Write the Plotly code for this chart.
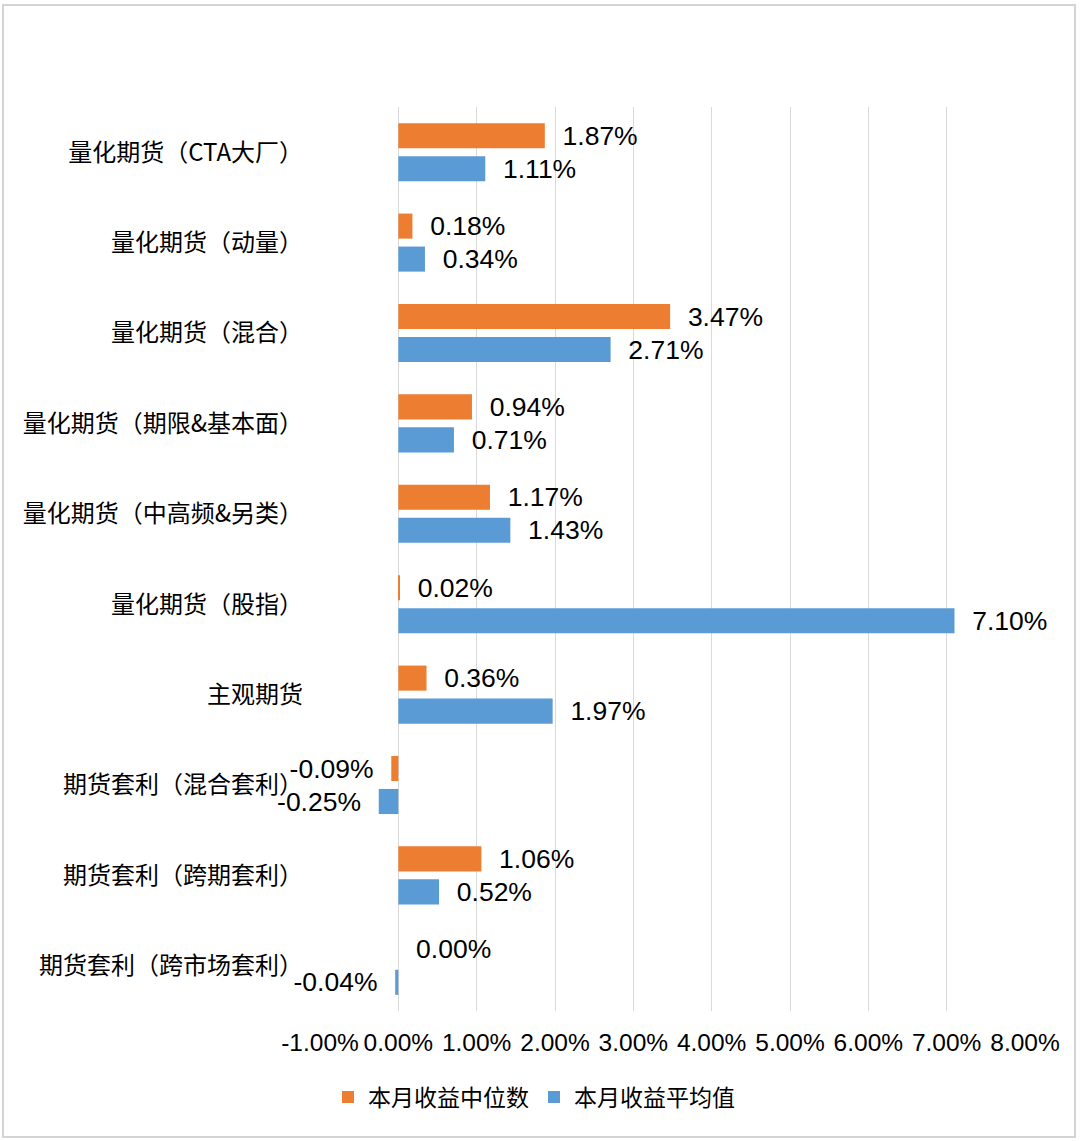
import plotly.graph_objects as go

categories = ["量化期货（CTA大厂）", "量化期货（动量）", "量化期货（混合）", "量化期货（期限&基本面）",
              "量化期货（中高频&另类）", "量化期货（股指）", "主观期货", "期货套利（混合套利）",
              "期货套利（跨期套利）", "期货套利（跨市场套利）"]
median_vals = [1.87, 0.18, 3.47, 0.94, 1.17, 0.02, 0.36, -0.09, 1.06, 0.00]
mean_vals = [1.11, 0.34, 2.71, 0.71, 1.43, 7.10, 1.97, -0.25, 0.52, -0.04]
x_ticks = [-1, 0, 1, 2, 3, 4, 5, 6, 7, 8]
series_names = ["本月收益中位数", "本月收益平均值"]
colors = ["#ED7D31", "#5B9BD5"]

NB = "\u00a0"


def labels(vals):
    out = []
    for v in vals:
        s = f"{v:.2f}%"
        out.append(s + NB * 2 if v < 0 else NB * 2 + s)
    return out


FONT = "Liberation Sans, Arial, Noto Sans CJK SC, sans-serif"
CJK = "Noto Sans CJK SC, sans-serif"

fig = go.Figure()
for name, vals, c in zip(series_names, [median_vals, mean_vals], colors):
    fig.add_trace(go.Bar(
        y=categories, x=vals, orientation="h", name=name,
        marker=dict(color=c, line=dict(width=0)),
        text=labels(vals), textposition="outside", cliponaxis=False,
        constraintext="none",
        textfont=dict(family=FONT, size=26.5, color="#000000"),
    ))

W, H = 1080, 1141
L, R, T, B = 320, 55, 107, 130
pw, ph = W - L - R, H - T - B


def px_x(p):
    return (p - L) / pw


def px_y(p):
    return (H - B - p) / ph


fig.update_layout(
    width=W, height=H,
    margin=dict(l=L, r=R, t=T, b=B, autoexpand=False),
    barmode="group", bargap=0.27, bargroupgap=0.24,
    plot_bgcolor="white", paper_bgcolor="white",
    font=dict(family=FONT, color="#000000"),
    showlegend=True,
    legend=dict(orientation="h", x=px_x(534), xanchor="center", y=px_y(1097), yanchor="middle",
                font=dict(family=CJK, size=23, color="#000000"),
                itemwidth=30, traceorder="normal"),
    xaxis=dict(range=[-1, 8], tickvals=x_ticks, ticktext=[f"{v:.2f}%" for v in x_ticks],
               showgrid=True, gridcolor="#d9d9d9", gridwidth=1,
               zeroline=True, zerolinecolor="#d9d9d9", zerolinewidth=1,
               showline=False, ticks="", tickfont=dict(family=FONT, size=24.5, color="#000000"),
               ticklabelstandoff=14),
    yaxis=dict(autorange="reversed", showgrid=False, showline=False, ticks="",
               tickfont=dict(family=CJK, size=24, color="#000000"),
               ticklabelstandoff=16),
    shapes=[dict(type="rect", xref="paper", yref="paper",
                 x0=px_x(3), x1=px_x(1075), y0=px_y(1137), y1=px_y(5),
                 line=dict(color="#d4d4d4", width=2), fillcolor="rgba(0,0,0,0)", layer="below")],
)

fig.write_html("out.html")
